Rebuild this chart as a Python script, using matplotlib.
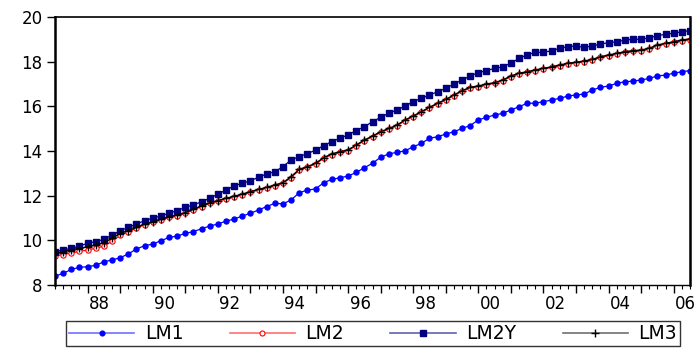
import numpy as np
import matplotlib
matplotlib.use("Agg")
import matplotlib.pyplot as plt
from matplotlib.lines import Line2D
from matplotlib.transforms import ScaledTranslation

plt.rcParams['font.family'] = ['DejaVu Sans']

# Quarterly observations, 1987Q1 .. 2006Q3
start_year = 1987
n_obs = 79

lm1 = [8.40, 8.52, 8.70, 8.79, 8.82, 8.88, 9.04, 9.12, 9.22, 9.39,
       9.61, 9.76, 9.83, 9.98, 10.13, 10.19, 10.31, 10.39, 10.52, 10.64,
       10.73, 10.86, 10.95, 11.09, 11.21, 11.36, 11.51, 11.66, 11.63, 11.81,
       12.13, 12.25, 12.30, 12.58, 12.73, 12.80, 12.88, 13.04, 13.25, 13.45,
       13.72, 13.87, 13.94, 14.01, 14.19, 14.34, 14.57, 14.64, 14.76, 14.86,
       15.01, 15.14, 15.39, 15.51, 15.61, 15.69, 15.84, 15.98, 16.14, 16.14,
       16.21, 16.28, 16.36, 16.46, 16.51, 16.55, 16.73, 16.85, 16.91, 17.03,
       17.10, 17.13, 17.18, 17.25, 17.36, 17.40, 17.48, 17.55, 17.60]

lm2 = [9.30, 9.36, 9.43, 9.50, 9.57, 9.64, 9.74, 9.96, 10.22, 10.37,
       10.54, 10.70, 10.80, 10.91, 11.03, 11.10, 11.21, 11.36, 11.51, 11.65,
       11.75, 11.85, 11.94, 12.04, 12.15, 12.25, 12.34, 12.45, 12.55, 12.81,
       13.14, 13.27, 13.42, 13.67, 13.84, 13.94, 14.02, 14.24, 14.46, 14.64,
       14.83, 14.98, 15.13, 15.36, 15.54, 15.73, 15.93, 16.11, 16.28, 16.48,
       16.67, 16.82, 16.88, 16.97, 17.03, 17.15, 17.33, 17.45, 17.52, 17.60,
       17.67, 17.74, 17.82, 17.90, 17.94, 18.00, 18.07, 18.19, 18.27, 18.34,
       18.42, 18.46, 18.49, 18.57, 18.72, 18.79, 18.86, 18.94, 18.99]

lm2y = [9.49, 9.57, 9.64, 9.74, 9.87, 9.94, 10.04, 10.24, 10.43, 10.58,
        10.73, 10.88, 10.99, 11.09, 11.21, 11.33, 11.48, 11.58, 11.73, 11.88,
        12.07, 12.25, 12.44, 12.55, 12.67, 12.82, 12.97, 13.07, 13.30, 13.60,
        13.75, 13.88, 14.04, 14.24, 14.42, 14.57, 14.72, 14.91, 15.09, 15.31,
        15.51, 15.69, 15.84, 16.01, 16.21, 16.36, 16.51, 16.65, 16.81, 17.00,
        17.18, 17.36, 17.51, 17.60, 17.70, 17.77, 17.93, 18.15, 18.30, 18.42,
        18.42, 18.49, 18.60, 18.67, 18.70, 18.64, 18.70, 18.79, 18.85, 18.89,
        18.97, 19.00, 19.00, 19.07, 19.16, 19.23, 19.27, 19.34, 19.39]

lm3 = [9.42, 9.49, 9.57, 9.64, 9.71, 9.79, 9.89, 10.09, 10.31, 10.43,
       10.58, 10.73, 10.83, 10.94, 11.06, 11.13, 11.24, 11.39, 11.54, 11.68,
       11.78, 11.88, 11.97, 12.07, 12.18, 12.28, 12.37, 12.48, 12.58, 12.85,
       13.18, 13.30, 13.45, 13.70, 13.87, 13.97, 14.05, 14.27, 14.49, 14.67,
       14.86, 15.01, 15.16, 15.39, 15.57, 15.76, 15.96, 16.14, 16.31, 16.51,
       16.70, 16.85, 16.91, 17.00, 17.06, 17.18, 17.36, 17.48, 17.55, 17.63,
       17.70, 17.77, 17.85, 17.93, 17.97, 18.03, 18.10, 18.22, 18.30, 18.37,
       18.45, 18.49, 18.52, 18.60, 18.75, 18.82, 18.89, 18.97, 19.02]

series_names = ['LM1', 'LM2', 'LM2Y', 'LM3']
y_ticks = [8, 10, 12, 14, 16, 18, 20]

t = np.arange(n_obs)

fig = plt.figure(figsize=(6.97, 3.49), dpi=100)
ax = fig.add_axes([55 / 697, 64 / 349, 635 / 697, 268 / 349])

ax.plot(t, lm1, color='#0000FF', lw=0.9, marker='o', ms=3.6,
        mfc='#0000FF', mec='#0000FF', label='LM1')
ax.plot(t, lm2, color='#FF0000', lw=0.9, marker='o', ms=3.8,
        mfc='white', mec='#FF0000', mew=0.8, label='LM2')
ax.plot(t, lm2y, color='#000080', lw=0.9, marker='s', ms=4.8,
        mfc='#000080', mec='#000080', label='LM2Y')
ax.plot(t, lm3, color='black', lw=1.0, marker='+', ms=5.5,
        mew=1.0, label='LM3')

ax.set_xlim(0, n_obs - 1)
ax.set_ylim(8, 20)
ax.set_yticks(y_ticks)
ax.set_yticklabels([str(v) for v in y_ticks], fontsize=12)

# year ticks (tall) and quarter ticks (short)
year_starts = np.arange(4, n_obs, 4)
ax.set_xticks(year_starts)
labels = []
for k, pos in enumerate(year_starts):
    yr = start_year + 1 + k
    labels.append(f"{yr % 100:02d}" if yr % 2 == 0 else '')
ax.set_xticklabels(labels, fontsize=12)
ax.set_xticks(np.arange(0, n_obs), minor=True)
ax.tick_params(axis='x', which='major', direction='out', length=5.5, width=1, pad=1.5)
ax.tick_params(axis='x', which='minor', direction='out', length=3, width=0.8)
ax.tick_params(axis='y', which='major', direction='out', length=6, width=1, pad=3)

shift = ScaledTranslation(12 / 100, 0, fig.dpi_scale_trans)
for lab in ax.get_xticklabels():
    lab.set_transform(lab.get_transform() + shift)
    lab.set_clip_on(False)

ax.spines['left'].set_linewidth(1.8)
ax.spines['right'].set_linewidth(1.8)
ax.spines['top'].set_linewidth(1.2)
ax.spines['bottom'].set_linewidth(1.0)

handles = [
    Line2D([], [], color='#7070FF', lw=1.2, marker='o', ms=3.4,
           mfc='#0000FF', mec='#0000FF'),
    Line2D([], [], color='#FF7070', lw=1.2, marker='o', ms=3.6,
           mfc='white', mec='#FF0000', mew=0.8),
    Line2D([], [], color='#6060B0', lw=1.2, marker='s', ms=4.2,
           mfc='#000080', mec='#000080'),
    Line2D([], [], color='#707070', lw=1.2, marker='+', ms=6,
           mec='black', mew=1.0),
]
leg = fig.legend(handles, series_names, ncol=4,
                 loc='lower left',
                 bbox_to_anchor=(66 / 697, 3 / 349, 614 / 697, 24 / 349),
                 mode='expand', fontsize=13.5, frameon=True, fancybox=False,
                 handlelength=3.5, handletextpad=0.55, borderpad=0.15,
                 borderaxespad=0.0, numpoints=1)
leg.get_frame().set_edgecolor('black')
leg.get_frame().set_linewidth(1.0)

fig.savefig('out.png', dpi=100)
